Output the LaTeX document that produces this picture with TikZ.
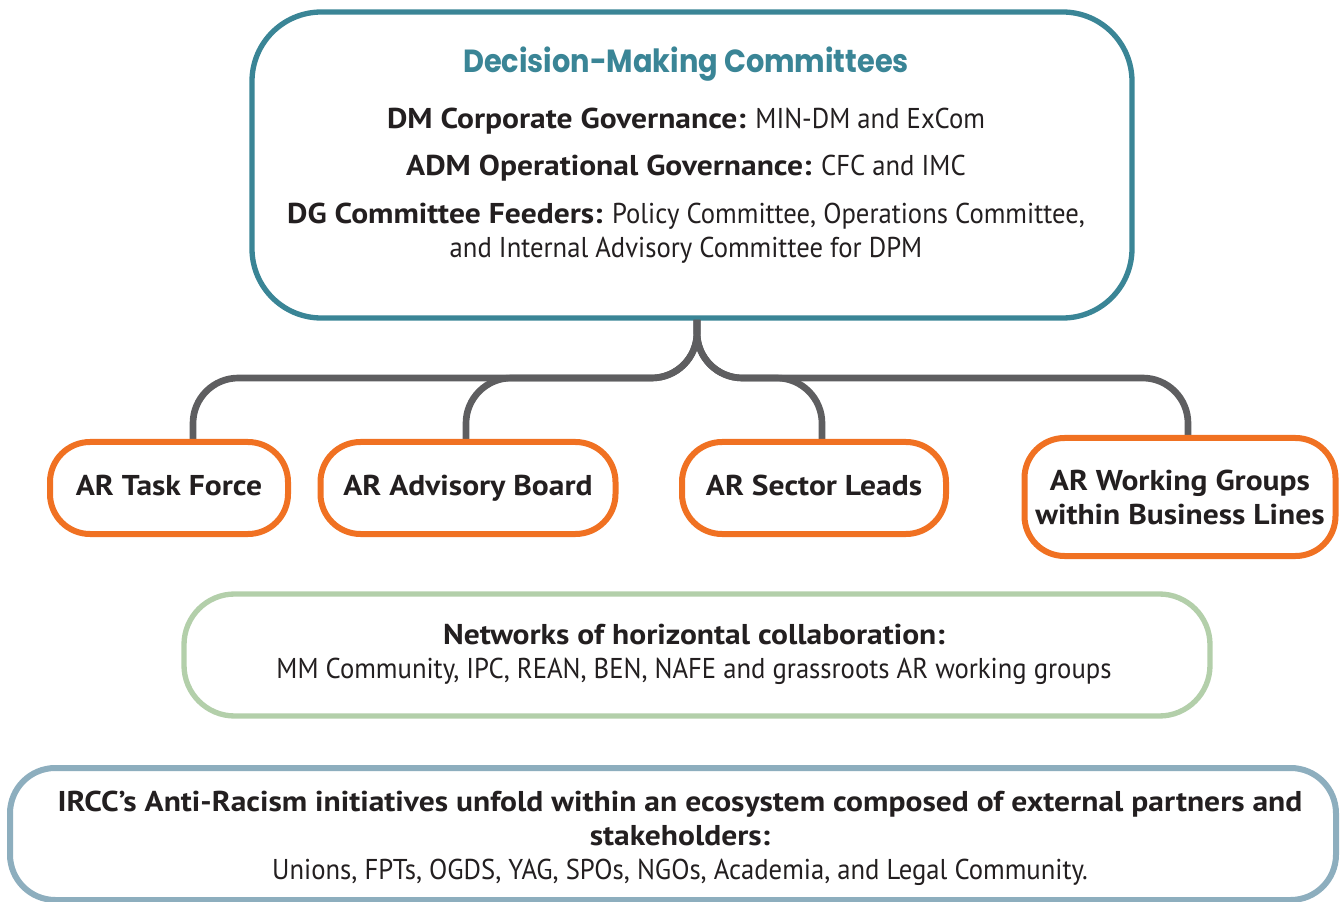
\documentclass[tikz,border=0pt]{standalone}
\usepackage{fontspec}
\setmainfont{PT Sans}[UprightFeatures={FakeStretch=0.93}, BoldFeatures={FakeStretch=1.10}]
\newfontfamily\titlefont{Poppins}[FakeStretch=0.9]
\usetikzlibrary{positioning}
\definecolor{dmteal}{HTML}{3A8596}
\definecolor{arorange}{HTML}{F07122}
\definecolor{linkgray}{HTML}{5E5E60}
\definecolor{netgreen}{HTML}{B3CFAA}
\definecolor{ecoblue}{HTML}{8DAEBE}
\definecolor{inktext}{HTML}{231F20}
\tikzset{
  boxbase/.style={fill=white, inner sep=0pt, align=center, text=inktext},
  dmbox/.style={boxbase, draw=dmteal, line width=4pt, rounded corners=52pt,
    minimum width=660pt, minimum height=229.5pt},
  arbox/.style={boxbase, draw=arorange, line width=4.5pt, rounded corners=30pt,
    minimum height=69pt, font=\fontsize{21.5}{25.5}\selectfont\bfseries},
  arline/.style={arbox, text height=15pt, text depth=4pt},
  netbox/.style={boxbase, draw=netgreen, line width=4pt, rounded corners=38pt,
    minimum width=769.5pt, minimum height=91.5pt},
  ecobox/.style={boxbase, draw=ecoblue, line width=4.5pt, rounded corners=34pt,
    minimum width=994.5pt, minimum height=99pt},
  txt/.style={inner sep=0pt, text=inktext, font=\fontsize{21.5}{25.5}\selectfont},
  link/.style={draw=linkgray, line width=5pt, rounded corners=34pt},
}
\begin{document}
\begin{tikzpicture}[x=0.75pt, y=-0.75pt]
\useasboundingbox (0,0) rectangle (1340,902);

% decision making box
\node[dmbox] (dm) at (692,165) {};
\node[inner sep=0pt, text=dmteal, font=\titlefont\fontsize{24}{26}\selectfont\bfseries] (dmtitle) at (686,64) {Decision-Making Committees};
\node[txt] (dmcorp) at (686,121) {\textbf{DM Corporate Governance:} MIN-DM and ExCom};
\node[txt] (dmops) at (686,168) {\textbf{ADM Operational Governance:} CFC and IMC};
\node[txt, align=center] (dmfeed) at (686,233) {\textbf{DG Committee Feeders:} Policy Committee, Operations Committee,\\and Internal Advisory Committee for DPM};

% connectors
\coordinate (hub) at (697,320);
\coordinate (tftop) at (193,442);
\coordinate (abtop) at (466,442);
\coordinate (sltop) at (822,442);
\coordinate (wgtop) at (1188,438);
\draw[link] (hub) -- (hub |- 0,378) -- (tftop |- 0,378) -- (tftop);
\draw[link] (hub) -- (hub |- 0,378) -- (abtop |- 0,378) -- (abtop);
\draw[link] (hub) -- (hub |- 0,378) -- (sltop |- 0,378) -- (sltop);
\draw[link] (hub) -- (hub |- 0,378) -- (wgtop |- 0,378) -- (wgtop);

% AR bodies
\node[arline, minimum width=178.5pt] (tf) at (169,488) {AR Task Force};
\node[arline, minimum width=221.25pt] (ab) at (468,488) {AR Advisory Board};
\node[arline, minimum width=198pt] (sl) at (814,488) {AR Sector Leads};
\node[arbox, minimum width=233.25pt, minimum height=88.5pt] (wg) at (1180,497) {AR Working Groups\\within Business Lines};

% networks
\node[netbox] (net) at (697,655) {};
\node[txt, align=center] (nettext) at (694,654) {\textbf{Networks of horizontal collaboration:}\\MM Community, IPC, REAN, BEN, NAFE and grassroots AR working groups};

% ecosystem
\node[ecobox] (eco) at (673,834) {};
\node[txt, align=center] (ecotext) at (680,838) {\textbf{IRCC’s Anti-Racism initiatives unfold within an ecosystem composed of external partners and}\\\textbf{stakeholders:}\\Unions, FPTs, OGDS, YAG, SPOs, NGOs, Academia, and Legal Community.};
\end{tikzpicture}
\end{document}
